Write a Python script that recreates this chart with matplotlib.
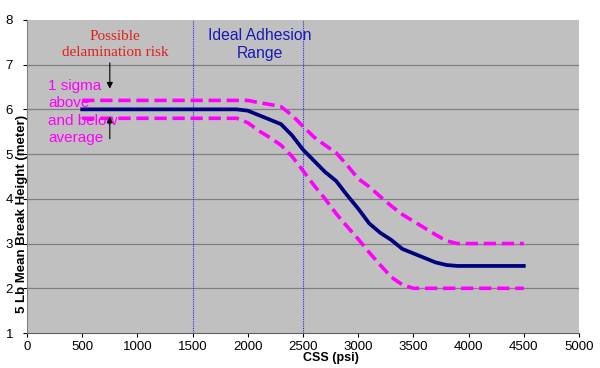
import matplotlib
matplotlib.use("Agg")
import matplotlib.pyplot as plt

# CSS (psi) sample points and break heights (meter)
css = [500, 1000, 1500, 1900, 2000, 2100, 2200, 2300, 2400, 2500, 2600,
       2700, 2800, 2900, 3000, 3100, 3200, 3300, 3400, 3500, 3600, 3700,
       3800, 3900, 4000, 4500]
mean_height = [6.0, 6.0, 6.0, 6.0, 5.97, 5.87, 5.77, 5.67, 5.42, 5.10, 4.85,
               4.60, 4.40, 4.08, 3.78, 3.45, 3.24, 3.08, 2.88, 2.78, 2.68,
               2.58, 2.52, 2.50, 2.50, 2.50]
upper_sigma = [6.2, 6.2, 6.2, 6.2, 6.2, 6.15, 6.11, 6.06, 5.87, 5.62, 5.38,
               5.20, 5.03, 4.75, 4.45, 4.27, 4.05, 3.84, 3.65, 3.50, 3.35,
               3.20, 3.06, 3.0, 3.0, 3.0]
lower_sigma = [5.8, 5.8, 5.8, 5.8, 5.7, 5.52, 5.37, 5.20, 4.95, 4.63, 4.30,
               4.00, 3.67, 3.38, 3.10, 2.80, 2.52, 2.25, 2.08, 2.0, 2.0,
               2.0, 2.0, 2.0, 2.0, 2.0]
ideal_range = [1500, 2500]

plt.rcParams["font.family"] = ["Liberation Sans", "DejaVu Sans"]

fig = plt.figure(figsize=(6.0, 3.68), dpi=100)
ax = fig.add_axes([0.045, 0.095, 0.92, 0.851])
ax.set_facecolor("#c0c0c0")

for yv in range(2, 8):
    ax.axhline(yv, color="#808080", linewidth=0.9, zorder=1)
for xv in ideal_range:
    ax.axvline(xv, color="#2a2aff", linewidth=0.8,
               linestyle=(0, (1, 1)), zorder=2)

ax.plot(css, upper_sigma, color="#ff00ff", linewidth=2.6,
        dashes=(3.4, 1.6), zorder=3)
ax.plot(css, lower_sigma, color="#ff00ff", linewidth=2.6,
        dashes=(3.4, 1.6), zorder=3)
ax.plot(css, mean_height, color="#000080", linewidth=2.7, zorder=4)

ax.set_xlim(0, 5000)
ax.set_ylim(1, 8)
ax.set_xticks(range(0, 5001, 500))
ax.set_yticks(range(1, 9))
ax.tick_params(labelsize=9.5, length=3, width=0.8)
ax.tick_params(axis="x", pad=3)
ax.tick_params(axis="y", pad=7)

for side in ["top", "right"]:
    ax.spines[side].set_visible(False)
ax.spines["left"].set_color("#808080")
ax.spines["bottom"].set_color("#606060")

ax.set_xlabel("CSS (psi)", fontsize=9, fontweight="bold")
ax.xaxis.set_label_coords(0.55, -0.062)
ax.set_ylabel("5 Lb Mean Break Height (meter)", fontsize=9.5,
              fontweight="bold")
ax.yaxis.set_label_coords(0.002, 0.38)

ax.text(800, 7.45, "Possible\ndelamination risk", color="#e02020",
        fontsize=11, ha="center", va="center", family="Liberation Serif",
        linespacing=1.35)
ax.text(2110, 7.45, "Ideal Adhesion\nRange", color="#1a1ab4",
        fontsize=11.3, ha="center", va="center", linespacing=1.25)
ax.text(190, 5.94, "1 sigma\nabove\nand below\naverage", color="#ff00ff",
        fontsize=11, ha="left", va="center", linespacing=1.28, zorder=5)

ax.annotate("", xy=(750, 6.4), xytext=(750, 7.1),
            arrowprops=dict(arrowstyle="-|>", color="black", lw=0.8,
                            mutation_scale=9), zorder=6)
ax.annotate("", xy=(750, 5.9), xytext=(750, 5.28),
            arrowprops=dict(arrowstyle="-|>", color="black", lw=0.8,
                            mutation_scale=9), zorder=6)

fig.savefig("out.png", dpi=100)
